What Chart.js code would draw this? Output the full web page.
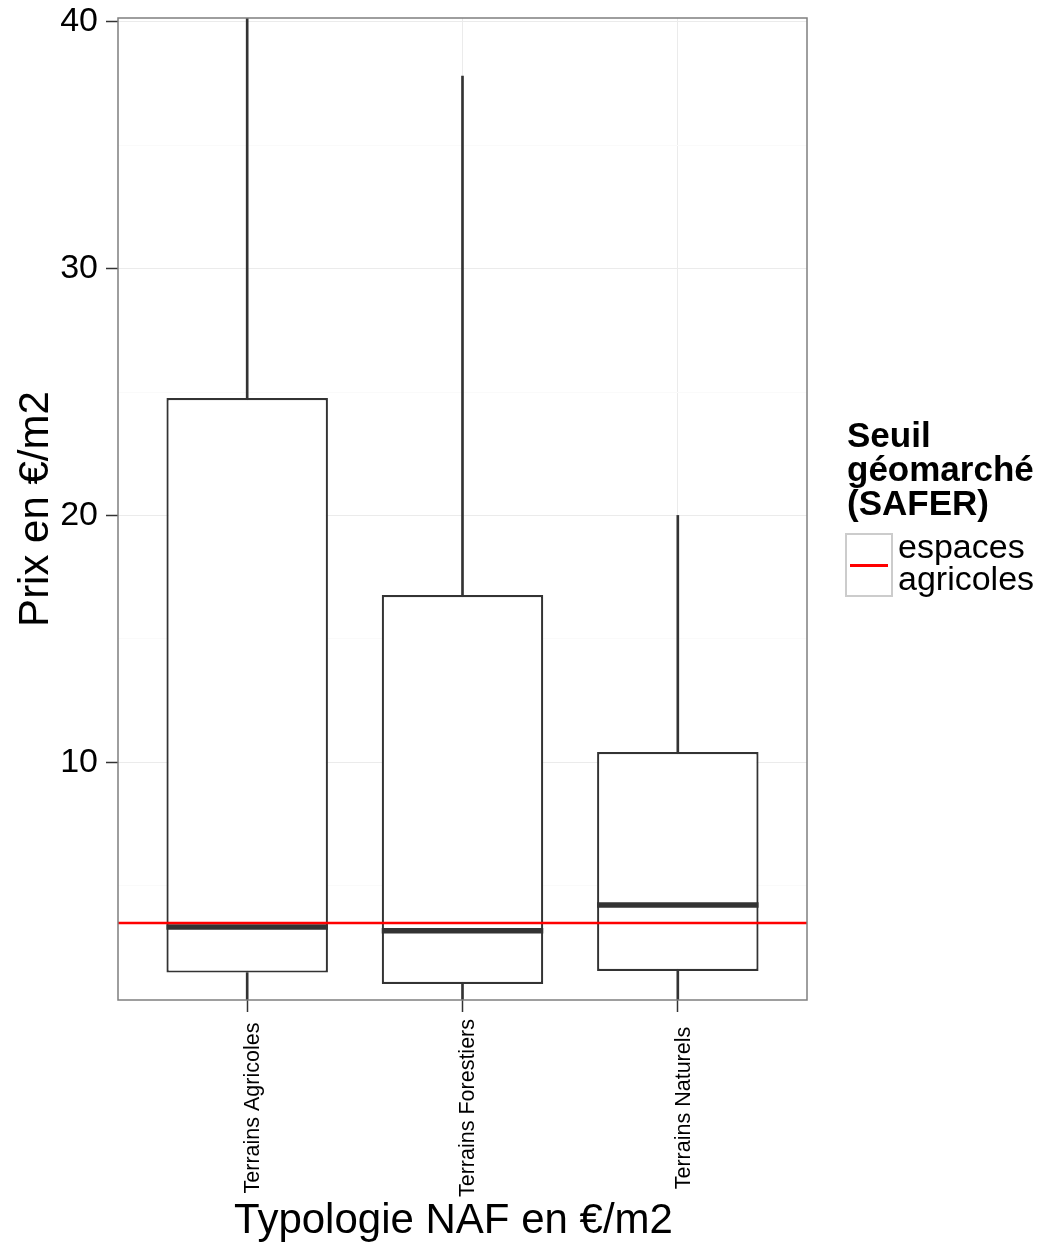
<!DOCTYPE html>
<html lang="fr">
<head>
<meta charset="utf-8">
<title>Prix en €/m2 par typologie NAF</title>
<script src="https://cdn.jsdelivr.net/npm/chart.js@4.4.0/dist/chart.umd.min.js"></script>
<style>
    html, body { margin: 0; padding: 0; background: #fff; }
    #cadre { position: relative; width: 1039px; height: 1247px; font-family: 'Liberation Sans', Arial, sans-serif; }
    #legende-titre { position: absolute; left: 847px; top: 418px; font-size: 35px; font-weight: bold; line-height: 34px; color: #000; }
    #legende-cle { position: absolute; left: 845px; top: 533px; width: 44px; height: 60px; border: 2px solid #cccccc; }
    #legende-cle span { position: absolute; left: 3px; right: 3px; top: 29px; height: 2.5px; background: #ff0000; }
    #legende-texte { position: absolute; left: 898px; top: 530px; font-size: 34px; line-height: 32px; color: #000; }
</style>
</head>
<body>
<div id="cadre">
    <canvas id="graphique" width="1039" height="1247"></canvas>
    <div id="legende-titre">Seuil<br>géomarché<br>(SAFER)</div>
    <div id="legende-cle"><span></span></div>
    <div id="legende-texte">espaces<br>agricoles</div>
</div>
<script>
// Données
const categories = ['Terrains Agricoles', 'Terrains Forestiers', 'Terrains Naturels'];
const minimums = [0.05, 0.05, 0.05];      // moustaches basses (coupées par le cadre)
const quartile1 = [1.47, 1.01, 1.54];
const medianes = [3.32, 3.17, 4.21];
const quartile3 = [24.76, 16.77, 10.41];
const maximums = [52, 37.81, 20.0];       // moustache haute agricole coupée à 40
const seuilSafer = 3.48;
const ticksY = [5, 10, 15, 20, 25, 30, 35, 40];
const titreX = 'Typologie NAF en €/m2';

Chart.defaults.font.family = "'Liberation Sans', Arial, sans-serif";
Chart.defaults.color = '#000';

// Construire les séries pour Chart.js
const caixas = categories.map((_, i) => ({ x: i + 1, y: [quartile1[i], quartile3[i]] }));
const bigodesHaut = categories.map((_, i) => ({ x: i + 1, y: [quartile3[i], maximums[i]] }));
const bigodesBas = categories.map((_, i) => ({ x: i + 1, y: [minimums[i], quartile1[i]] }));

// Médianes, étiquettes verticales centrées, titre x et cadre du panneau
const pluginBoite = {
    id: 'boite',
    afterDatasetDraw(chart, args) {
        if (args.index !== 1) return;
        const ctx = chart.ctx;
        const xs = chart.scales.x;
        const ys = chart.scales.y;
        ctx.save();
        ctx.strokeStyle = '#333333';
        ctx.lineWidth = 5.5;
        args.meta.data.forEach((barre, i) => {
            const cx = xs.getPixelForValue(i + 1);
            const y = ys.getPixelForValue(medianes[i]);
            ctx.beginPath();
            ctx.moveTo(cx - barre.width / 2, y);
            ctx.lineTo(cx + barre.width / 2, y);
            ctx.stroke();
        });
        ctx.restore();
    },
    afterDraw(chart) {
        const { ctx, chartArea } = chart;
        const xs = chart.scales.x;
        ctx.save();
        ctx.strokeStyle = '#7f7f7f';
        ctx.lineWidth = 1.5;
        ctx.strokeRect(chartArea.left, chartArea.top, chartArea.right - chartArea.left, chartArea.bottom - chartArea.top);

        // étiquettes de l'axe x, tournées de 90° et centrées
        ctx.fillStyle = '#000';
        ctx.font = "21.5px 'Liberation Sans', Arial, sans-serif";
        ctx.textAlign = 'center';
        ctx.textBaseline = 'middle';
        categories.forEach((nom, i) => {
            ctx.save();
            ctx.translate(xs.getPixelForValue(i + 1) + 6, chartArea.bottom + 108);
            ctx.rotate(-Math.PI / 2);
            ctx.fillText(nom, 0, 0);
            ctx.restore();
        });

        // titre de l'axe x
        ctx.font = "42px 'Liberation Sans', Arial, sans-serif";
        ctx.textBaseline = 'alphabetic';
        ctx.fillText(titreX, (chartArea.left + chartArea.right) / 2 - 9, chartArea.bottom + 233);
        ctx.restore();
    }
};

const ctx = document.getElementById('graphique').getContext('2d');
new Chart(ctx, {
    type: 'bar',
    data: {
        datasets: [
            {
                type: 'line',
                label: 'espaces agricoles',
                data: [{ x: 0.4, y: seuilSafer }, { x: 3.6, y: seuilSafer }],
                borderColor: '#ff0000',
                borderWidth: 2.5,
                pointRadius: 0,
                clip: 0
            },
            {
                label: 'boîtes',
                data: caixas,
                backgroundColor: '#ffffff',
                borderColor: '#333333',
                borderWidth: 2.2,
                borderSkipped: false,
                grouped: false,
                categoryPercentage: 1,
                barPercentage: 0.75,
                clip: 0
            },
            {
                label: 'moustaches hautes',
                data: bigodesHaut,
                backgroundColor: '#333333',
                borderWidth: 0,
                barThickness: 2,
                grouped: false,
                clip: 0
            },
            {
                label: 'moustaches basses',
                data: bigodesBas,
                backgroundColor: '#333333',
                borderWidth: 0,
                barThickness: 2,
                grouped: false,
                clip: 0
            }
        ]
    },
    options: {
        responsive: false,
        animation: false,
        layout: { padding: { top: 18, right: 232, left: 0, bottom: 0 } },
        plugins: {
            legend: { display: false },
            tooltip: { enabled: false }
        },
        scales: {
            x: {
                type: 'linear',
                min: 0.4,
                max: 3.6,
                offset: false,
                afterBuildTicks: (s) => { s.ticks = [1, 2, 3].map(v => ({ value: v })); },
                afterFit: (s) => {
                    s.height = 247;
                    s.paddingLeft = 0;
                    s.paddingRight = 0;
                },
                grid: {
                    offset: false,
                    color: '#ebebeb',
                    lineWidth: 1,
                    tickColor: '#333333',
                    tickLength: 12,
                    tickWidth: 1.5
                },
                border: { display: false },
                ticks: { display: false },
                title: { display: false }
            },
            y: {
                type: 'linear',
                min: 0.36,
                max: 40.16,
                afterBuildTicks: (s) => { s.ticks = ticksY.map(v => ({ value: v })); },
                afterFit: (s) => {
                    s.width = 118;
                    s.paddingTop = 0;
                    s.paddingBottom = 0;
                },
                grid: {
                    color: (c) => (c.tick && c.tick.value % 10 === 0) ? '#ebebeb' : '#fafafa',
                    lineWidth: 1,
                    tickColor: (c) => (c.tick && c.tick.value % 10 === 0) ? '#333333' : 'rgba(0,0,0,0)',
                    tickLength: 12,
                    tickWidth: 1.5
                },
                border: { display: false },
                ticks: {
                    autoSkip: false,
                    padding: 8,
                    font: { size: 34 },
                    color: '#000',
                    callback: (v) => v % 10 === 0 ? String(v) : ''
                },
                title: {
                    display: true,
                    text: 'Prix en €/m2',
                    font: { size: 42 },
                    color: '#000',
                    padding: { top: 11, bottom: 0 }
                }
            }
        }
    },
    plugins: [pluginBoite]
});
</script>
</body>
</html>
